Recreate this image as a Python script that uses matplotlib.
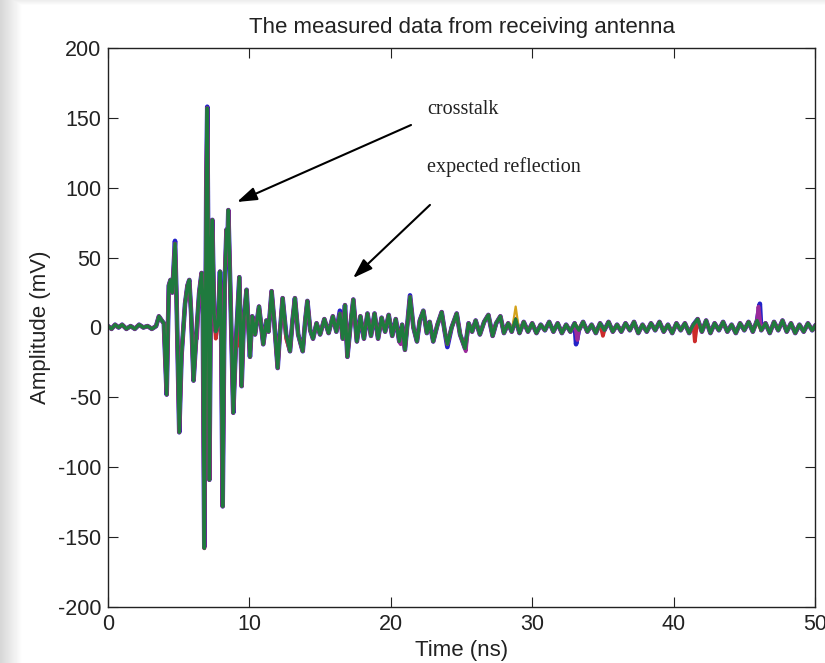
import numpy as np
import matplotlib
matplotlib.use("Agg")
import matplotlib.pyplot as plt

# ---------------- data ----------------
title = "The measured data from receiving antenna"
xlabel = "Time (ns)"
ylabel = "Amplitude (mV)"
x_ticks = [0, 10, 20, 30, 40, 50]
y_ticks = [-200, -150, -100, -50, 0, 50, 100, 150, 200]

# main (green) trace: time (ns) of each read turning point
t_main = [0.0, 0.25, 0.5, 0.75, 1.0, 1.3, 1.6, 1.9, 2.2, 2.5, 2.8, 3.1, 3.4, 3.6, 3.8, 3.95,
          4.15, 4.3, 4.42, 4.55, 4.74, 4.85, 5.04, 5.2, 5.45, 5.62, 5.75, 5.88, 6.05, 6.25,
          6.45, 6.62, 6.7, 6.81, 6.95, 7.02, 7.1, 7.17, 7.3, 7.38, 7.5, 7.62, 7.78, 7.92,
          8.0, 8.11, 8.25, 8.38, 8.45, 8.51, 8.62, 8.86, 9.05, 9.29, 9.45, 9.6, 9.8, 10.04,
          10.2, 10.4, 10.68, 10.85, 10.98, 11.2, 11.35, 11.57, 11.75, 12.0, 12.15, 12.35,
          12.6, 12.87, 13.05, 13.22, 13.45, 13.77, 13.95, 14.1, 14.3, 14.5, 14.75, 15.0,
          15.3, 15.6, 15.9, 16.15, 16.4, 16.6, 16.76, 16.93, 17.15, 17.35, 17.6, 17.85,
          18.1, 18.35, 18.6, 18.85, 19.1, 19.35, 19.6, 19.85, 20.1, 20.35, 20.6, 20.8,
          21.0, 21.36, 21.6, 21.85, 22.05, 22.3, 22.55, 22.75, 23.0, 23.3, 23.6, 23.8,
          24.0, 24.3, 24.66, 24.9, 25.25, 25.5, 25.75, 26.0, 26.3, 26.6, 26.9, 27.2,
          27.45, 27.75, 28.0, 28.3, 28.55, 28.83, 29.1, 29.4, 29.7, 30.0, 30.3, 30.6,
          30.9, 31.2, 31.5, 31.8, 32.1, 32.4, 32.7, 33.0, 33.3, 33.6, 33.9, 34.2, 34.5,
          34.8, 35.1, 35.4, 35.7, 36.0, 36.3, 36.6, 36.9, 37.2, 37.5, 37.8, 38.1, 38.4,
          38.7, 39.0, 39.3, 39.6, 39.9, 40.2, 40.5, 40.8, 41.1, 41.4, 41.7, 42.0, 42.3,
          42.6, 42.9, 43.2, 43.5, 43.8, 44.1, 44.4, 44.7, 45.0, 45.3, 45.6, 45.9, 46.2,
          46.5, 46.8, 47.1, 47.4, 47.7, 48.0, 48.3, 48.6, 48.9, 49.2, 49.5, 49.8, 50.0]
# amplitude (mV) at each of those points
v_main = [1, -1, 2, 0, 2, -1, 1, -1, 2, 0, 1, -1, 1, 8, 5, 3,
          -48, 30, 34, 25, 60, 20, -75, -20, 17, 30, 34, 10, -38, -5,
          25, 39, 20, -158, 100, 157, 40, -109, 60, 77, 10, -3, 2, 40,
          0, -128, 30, 70, 60, 84, 40, -61, -10, 36, -42, 5, 27, -21,
          8, -5, 15, 0, -12, 5, -3, 26, 5, -29, -5, 21,
          -5, -17, 5, 21, -5, -17, 5, 19, -2, -8, 3, -5,
          6, -4, 8, -3, 10, -8, 16, -21, 2, 20, -10, 8,
          -8, 10, -6, 10, -8, 7, -3, 9, -6, 6, -10, 2,
          -16, 22, 0, -10, 5, 12, -4, 4, -10, 2, 11, -2,
          -12, 0, 10, -5, -15, 3, -3, 5, -5, 4, 9, -6,
          3, 8, -4, 3, -3, 6, -4, 4, -3, 3, -4, 2,
          -2, 4, -3, 3, -4, 2, -3, 3, -2, 4, -3, 2, -4,
          3, -2, 4, -3, 2, -3, 3, -2, 4, -4, 2, -3, 3,
          -2, 4, -3, 2, -4, 3, -2, 3, -4, 2, 6, -3, 5,
          -4, 3, -2, 4, -3, 2, -4, 3, -2, 4, -3, 5, -2,
          3, -4, 4, -2, 5, -3, 3, -4, 2, -3, 3, -2, 1]

# the other repeated measurements differ from the green one only at these points
blue_t = [7.02, 6.81, 4.74, 16.4, 33.1, 46.1, 21.36, 24.0]
blue_v = [158, -157, 62, 12, -12, 17, 23, -14]
red_t = [7.62, 41.5, 9.1, 12.6, 35.0]
red_v = [-8, -10, -14, -8, -6]
purple_t = [6.3, 20.7, 33.2, 46.0, 25.3]
purple_v = [-8, -12, -9, 15, -17]
yellow_t = [28.83]
yellow_v = [15]

trace_colors = {"blue": "#2323c8", "red": "#cc2b2b", "purple": "#9a2a9a",
                "yellow": "#d4a21a", "green": "#1f7a3e"}

annot_text = ["crosstalk", "expected reflection"]
annot_text_xy = [(22.56, 152.6), (22.56, 111.5)]
arrow_tail = [(21.43, 144.9), (22.77, 87.7)]
arrow_head = [(9.12, 89.8), (17.33, 35.4)]


def merged(tb, vb, te, ve):
    d = dict(zip(tb, vb))
    d.update(dict(zip(te, ve)))
    ks = sorted(d)
    return ks, [d[k] for k in ks]


# ---------------- figure ----------------
plt.rcParams["font.family"] = ["Liberation Sans", "DejaVu Sans"]
plt.rcParams["axes.unicode_minus"] = False
fig = plt.figure(figsize=(8.25, 6.63), dpi=100)

# slide-like gray shading on the left and top edges
bg = fig.add_axes([0, 0, 1, 1], zorder=-10)
W, H = 825, 663
xx = np.arange(W)
yy = np.arange(H)
left = np.clip(1 - xx / 22.0, 0, 1)[None, :] * 0.16
top = np.clip(1 - yy / 5.0, 0, 1)[:, None] * 0.07
shade = 1 - np.maximum(left, top)
bg.imshow(shade, cmap="gray", vmin=0, vmax=1, extent=[0, 1, 0, 1], aspect="auto",
          interpolation="bilinear")
bg.axis("off")

ax = fig.add_axes([0.1309, 0.0845, 0.8570, 0.8431])

tb, vb = merged(t_main, v_main, blue_t, blue_v)
ax.plot(tb, vb, color=trace_colors["blue"], lw=3.3, solid_joinstyle="round")
tr, vr = merged(t_main, v_main, red_t, red_v)
ax.plot(tr, vr, color=trace_colors["red"], lw=2.7)
tp, vp = merged(t_main, v_main, purple_t, purple_v)
ax.plot(tp, vp, color=trace_colors["purple"], lw=2.7)
ty, vy = merged(t_main, v_main, yellow_t, yellow_v)
ax.plot(ty, vy, color=trace_colors["yellow"], lw=1.6)
ax.plot(t_main, v_main, color=trace_colors["green"], lw=2.4)

ax.set_xlim(0, 50)
ax.set_ylim(-200, 200)
ax.set_xticks(x_ticks)
ax.set_yticks(y_ticks)
ax.tick_params(direction="in", top=True, right=True, length=7, width=0.8,
               labelsize=15.5, pad=5, colors="#222222")
for s in ax.spines.values():
    s.set_linewidth(1.0)
    s.set_color("#222222")

ax.set_title(title, fontsize=16, pad=11, color="#222222")
ax.set_xlabel(xlabel, fontsize=16, labelpad=4, color="#222222")
ax.set_ylabel(ylabel, fontsize=16, labelpad=5, color="#222222")

for txt, (tx, ty_) in zip(annot_text, annot_text_xy):
    ax.text(tx, ty_, txt, family=["Liberation Serif", "DejaVu Serif"], fontsize=14.5,
            va="baseline", ha="left", color="#222222")
for (xt, yt), (xh, yh) in zip(arrow_tail, arrow_head):
    ax.annotate("", xy=(xh, yh), xytext=(xt, yt),
                arrowprops=dict(arrowstyle="-|>,head_length=0.6,head_width=0.2",
                                mutation_scale=20, color="black", lw=1.5,
                                shrinkA=0, shrinkB=0))

fig.savefig("out.png", dpi=100)
